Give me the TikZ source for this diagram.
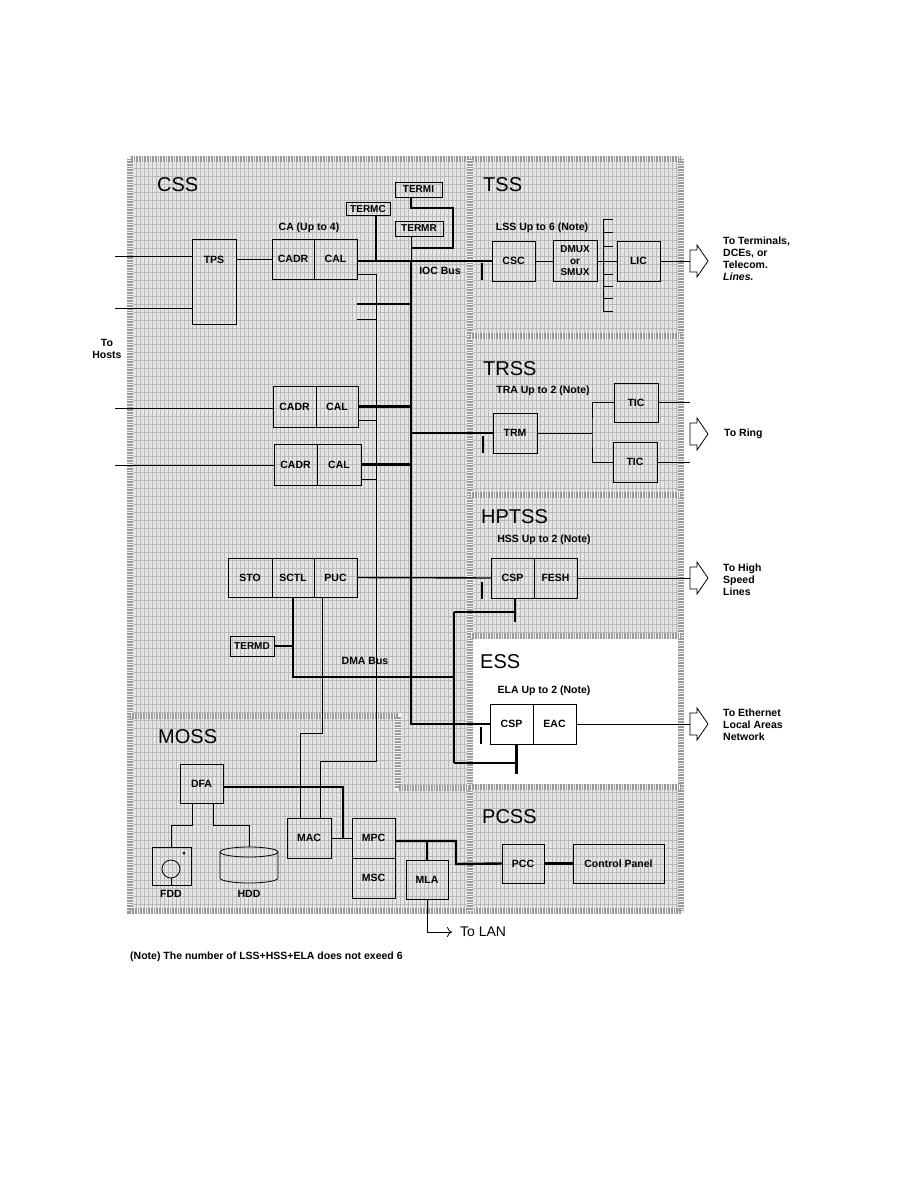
\documentclass[tikz,border=0pt]{standalone}
\usepackage{fontspec}
\setmainfont{Liberation Sans}
\usetikzlibrary{positioning, arrows.meta}

\begin{document}
\begin{tikzpicture}[
        x=1pt, y=-1pt,
        box/.style={rectangle, draw, line width=0.8pt, inner sep=0pt, outer sep=0pt, align=center, font=\bfseries\fontsize{10.5}{12}\selectfont},
        term/.style={box, font=\bfseries\fontsize{10}{11}\selectfont},
        title/.style={anchor=west, inner sep=0pt, font=\fontsize{20}{22}\selectfont},
        lbl/.style={inner sep=0pt, align=left, font=\bfseries\fontsize{10.5}{12}\selectfont},
        line/.style={line width=0.8pt},
        midline/.style={line width=1.4pt},
        bus/.style={line width=2.4pt},
        outarrow/.pic={\draw[line width=0.8pt] (0,-11) -- (7,-11) -- (7,-16) -- (18,0) -- (7,16) -- (7,11) -- (0,11) -- cycle;},
        stip/.style={line width=6pt, draw=black!40, dash pattern=on 0.5pt off 1.1pt, preaction={draw=gray!8, line width=6pt, solid}},
        gridline/.style={draw=gray!55, line width=0.3pt}
        ]

        \useasboundingbox (0,0) rectangle (918,1188);

        % Background
        \fill[gray!20] (128,157) rectangle (683,913);
        \draw[gridline, xstep=4pt, ystep=8pt] (128,157) grid (683,913);
        \fill[white] (473,639) rectangle (679,785);
        \draw[stip] (130,159) rectangle (681,911);
        \draw[stip] (470,159) -- (470,911);
        \foreach \by in {336,495,636,787}
            \draw[stip] (470,\by) -- (681,\by);
        \draw[stip] (130,716) -- (398,716) -- (398,788) -- (470,788);

        % Titles
        \node[title] (csst) at (157,185) {CSS};
        \node[title] (tsst) at (483,185) {TSS};
        \node[title] (trsst) at (483,369) {TRSS};
        \node[title] (hptsst) at (481,517) {HPTSS};
        \node[title] (esst) at (480,662) {ESS};
        \node[title] (mosst) at (158,737) {MOSS};
        \node[title] (pcsst) at (482,817) {PCSS};

        % Nodes - CSS
        \node[box, minimum width=44pt, minimum height=85pt, text height=8pt, text depth=45pt] (tps) at (214,281.5) {TPS};
        \node[box, minimum width=42pt, minimum height=40pt] (cadr1) at (293,259) {CADR};
        \node[box, minimum width=43pt, minimum height=40pt, right=0pt of cadr1] (cal1) {CAL};
        \node[box, minimum width=43pt, minimum height=41pt] (cadr2) at (294.5,406.5) {CADR};
        \node[box, minimum width=42pt, minimum height=41pt, right=0pt of cadr2] (cal2) {CAL};
        \node[box, minimum width=43pt, minimum height=41pt] (cadr3) at (295.5,464.5) {CADR};
        \node[box, minimum width=44pt, minimum height=41pt, right=0pt of cadr3] (cal3) {CAL};
        \node[box, minimum width=44pt, minimum height=39pt] (sto) at (250,577.5) {STO};
        \node[box, minimum width=42pt, minimum height=39pt, right=0pt of sto] (sctl) {SCTL};
        \node[box, minimum width=43pt, minimum height=39pt, right=0pt of sctl] (puc) {PUC};
        \node[term, minimum width=47pt, minimum height=15pt] (termi) at (418.5,189.5) {TERMI};
        \node[term, minimum width=44pt, minimum height=13pt] (termc) at (368,209) {TERMC};
        \node[term, minimum width=48pt, minimum height=15pt] (termr) at (419,228.5) {TERMR};
        \node[term, minimum width=44pt, minimum height=20pt] (termd) at (252,646) {TERMD};

        % Nodes - TSS
        \node[box, minimum width=43pt, minimum height=40pt] (csc) at (513.5,261) {CSC};
        \node[box, minimum width=44pt, minimum height=41pt, font=\bfseries\fontsize{10}{11.5}\selectfont] (dmux) at (575,261) {DMUX\\or\\SMUX};
        \node[box, minimum width=43pt, minimum height=40pt] (lic) at (638.5,261) {LIC};
        \coordinate (arrt) at (690,261);
        \pic at (arrt) {outarrow};

        % Nodes - TRSS
        \node[box, minimum width=44pt, minimum height=40pt] (trm) at (515,433) {TRM};
        \node[box, minimum width=44pt, minimum height=39pt] (tic1) at (636,402.5) {TIC};
        \node[box, minimum width=44pt, minimum height=40pt] (tic2) at (635,462) {TIC};
        \coordinate (arrr) at (690,434);
        \pic at (arrr) {outarrow};

        % Nodes - HPTSS
        \node[box, minimum width=43pt, minimum height=40pt] (csph) at (512.5,578) {CSP};
        \node[box, minimum width=43pt, minimum height=40pt, right=0pt of csph] (fesh) {FESH};
        \coordinate (arrh) at (690,578);
        \pic at (arrh) {outarrow};

        % Nodes - ESS
        \node[box, minimum width=43pt, minimum height=40pt] (cspe) at (511.5,724) {CSP};
        \node[box, minimum width=43pt, minimum height=40pt, right=0pt of cspe] (eac) {EAC};
        \coordinate (arre) at (690,724);
        \pic at (arre) {outarrow};

        % Nodes - PCSS
        \node[box, minimum width=42pt, minimum height=39pt] (pcc) at (523,863.5) {PCC};
        \node[box, minimum width=91pt, minimum height=39pt] (panel) at (618.5,863.5) {Control Panel};

        % Nodes - MOSS
        \node[box, minimum width=43pt, minimum height=39pt] (dfa) at (201.5,783.5) {DFA};
        \node[box, minimum width=44pt, minimum height=40pt] (mac) at (309,838) {MAC};
        \node[box, minimum width=43pt, minimum height=40pt] (mpc) at (373.5,838) {MPC};
        \node[box, minimum width=43pt, minimum height=40pt, below=0pt of mpc] (msc) {MSC};
        \node[box, minimum width=42pt, minimum height=39pt] (mla) at (427,879.5) {MLA};
        \node[box, minimum width=39pt, minimum height=38pt] (fdd) at (171.5,866) {};
        \coordinate (hdd) at (249,847);
        \node[lbl] (fddtxt) at (171,894) {FDD};
        \node[lbl] (hddtxt) at (249,894) {HDD};
        \draw[line] (171,869) circle[radius=9];
        \fill (184,853) circle[radius=1.5];
        \draw[line] (171,878) -- (fdd.south -| 171,0);
        \draw[line] (249,852) ellipse[x radius=29, y radius=5];
        \draw[line] (220,852) -- (220,878) arc[start angle=180, end angle=0, x radius=29, y radius=5] -- (278,852);

        % Labels
        \node[lbl] (catxt) at (309,228) {CA (Up to 4)};
        \node[lbl] (iocbus) at (440,271) {IOC Bus};
        \node[lbl] (dmabus) at (365,661) {DMA Bus};
        \node[lbl] (lsstxt) at (542,228) {LSS Up to 6 (Note)};
        \node[lbl] (tratxt) at (543,391) {TRA Up to 2 (Note)};
        \node[lbl] (hsstxt) at (544,540) {HSS Up to 2 (Note)};
        \node[lbl] (elatxt) at (544,691) {ELA Up to 2 (Note)};
        \node[lbl, align=center] (hosts) at (107,349) {To\\Hosts};
        \node[lbl, anchor=west] (termtxt) at (723,259) {To Terminals,\\DCEs, or\\Telecom.\\\textit{Lines.}};
        \node[lbl, anchor=west] (ringtxt) at (724,434) {To Ring};
        \node[lbl, anchor=west] (hightxt) at (723,580) {To High\\Speed\\Lines};
        \node[lbl, anchor=west] (ethtxt) at (723,725) {To Ethernet\\Local Areas\\Network};
        \node[lbl, anchor=west, font=\fontsize{14}{16}\selectfont] (lantxt) at (460,932) {To LAN};
        \node[lbl, anchor=west] (note) at (130,957) {(Note) The number of LSS+HSS+ELA does not exeed 6};

        % Coordinates
        \coordinate (host1) at (115,256);
        \coordinate (host2) at (115,308);
        \coordinate (host3) at (115,408);
        \coordinate (host4) at (115,465);
        \coordinate (ioc) at (411,261);
        \coordinate (iocb) at (411,724);
        \coordinate (tij) at (411,248);
        \coordinate (cab) at (376,761);
        \coordinate (stubA) at (357,304);
        \coordinate (stubB) at (357,319);
        \coordinate (dmam) at (454,677);
        \coordinate (dmat) at (454,612);
        \coordinate (dmab) at (454,763);
        \coordinate (hspt) at ([xshift=2.5pt]csph.south);
        \coordinate (espt) at ([xshift=5pt]cspe.south);
        \coordinate (trj) at (592,433);
        \coordinate (ringA) at (690,402.5);
        \coordinate (ringB) at (690,462);
        \coordinate (mocj) at (343,838);
        \coordinate (pcj) at (456,864);
        \coordinate (lan) at (452,932);

        % Arrows - hosts
        \draw[line] (host1) -- (host1 -| tps.west);
        \draw[line] (host2) -- (host2 -| tps.west);
        \draw[line] (host3) -- (host3 -| cadr2.west);
        \draw[line] (host4) -- (host4 -| cadr3.west);
        \draw[line] (tps.east |- cadr1.west) -- (cadr1.west);

        % Arrows - IOC bus
        \draw[bus] (cal1.east |- ioc) -- (csc.west |- ioc);
        \draw[line] (ioc |- termr.south) -- (ioc);
        \draw[bus] (ioc) -- (iocb) -- (cspe.west);
        \draw[bus] ([xshift=8pt]termc.south) -- ([xshift=8pt]termc.south |- ioc);
        \draw[bus] (ioc |- termi.south) |- (453,208) |- (tij);
        \draw[bus] (stubA) -- (stubA -| ioc);
        \draw[bus] (cal2.east) -- (cal2.east -| ioc);
        \draw[bus] (cal3.east) -- (cal3.east -| ioc);
        \draw[midline] (ioc |- trm.west) -- (trm.west);
        \draw[midline] (puc.east) -- (csph.west);
        \foreach \tx/\ty in {482/263, 483/436, 482/582, 481/727}
            \draw[bus] (\tx,\ty) -- ++(0,17);

        % Arrows - CA to MAC
        \draw[line] ([yshift=-15pt]cal1.east) -| (cab) -| ([xshift=11pt]mac.north);
        \draw[line] (stubB) -- (stubB -| cab);
        \draw[line] ([yshift=-14pt]cal2.east) -- ([yshift=-14pt]cal2.east -| cab);
        \draw[line] ([yshift=-15pt]cal3.east) -- ([yshift=-15pt]cal3.east -| cab);
        \draw[line] ([xshift=-13.5pt]puc.south) |- (300,733) -- ([xshift=-9pt]mac.north);

        % Arrows - DMA bus
        \draw[bus] (termd.east) -- (termd.east -| sctl.south);
        \draw[bus] (sctl.south) |- (dmam);
        \draw[bus] (dmat) -- (dmab);
        \draw[bus] (dmat) -- (dmat -| hspt);
        \draw[bus] (hspt) -- ++(0,24);
        \draw[bus] (dmab) -- (dmab -| espt);
        \draw[bus] (espt) -- ++(0,30);

        % Arrows - TSS, TRSS
        \draw[line] (csc.east) -- (dmux.west);
        \draw[line] (dmux.east) -- (lic.west);
        \draw[line] (603,219) -- (603,311);
        \foreach \ty in {219,232,246,274,286,298,311}
            \draw[line] (603,\ty) -- ++(10,0);
        \draw[line] (lic.east) -- (arrt);
        \draw[line] (trm.east) -- (trj);
        \draw[line] (tic1.west) -| (trj) |- (tic2.west);
        \draw[line] (tic1.east) -- (ringA);
        \draw[line] (tic2.east) -- (ringB);
        \draw[line] (fesh.east) -- (arrh);
        \draw[line] (eac.east) -- (arre);

        % Arrows - MOSS, PCSS
        \draw[bus] ([yshift=-3pt]mpc.east) -| (pcj) -- (pcc.west);
        \draw[bus] (mla.north) -- ++(0,-19);
        \draw[bus] (pcc.east) -- (panel.west);
        \draw[line, -{To[length=5pt, width=10pt]}] (mla.south) |- (lan);
        \draw[bus] ([yshift=-3.5pt]dfa.east) -| (mocj);
        \draw[line] (mac.east) -- (mpc.west);
        \draw[line] ([xshift=-9.5pt]dfa.south) -- ++(0,22) -| (fdd.north);
        \draw[line] ([xshift=11.5pt]dfa.south) -- ++(0,22) -| (hdd);

\end{tikzpicture}
\end{document}
